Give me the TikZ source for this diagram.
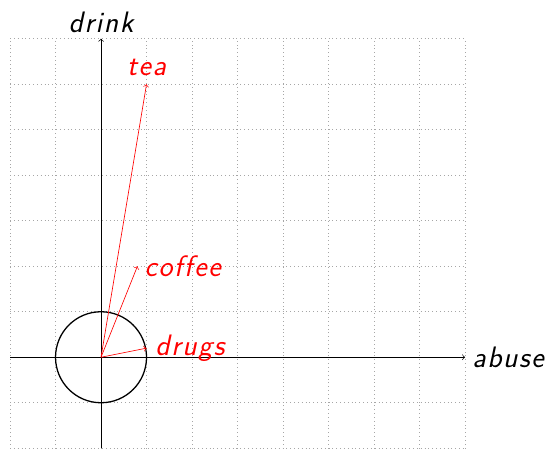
\documentclass[tikz,border=0pt]{standalone}
\def\lsk{\kern1pt}
\begin{document}
\begin{tikzpicture}[
  lbl/.style={font=\fontsize{18.5}{22}\selectfont\sffamily\itshape},
  vec/.style={red,->},
  axis/.style={->}]
\useasboundingbox (-2.22,-2.07) rectangle (9.80,7.85);
\draw[gray!70,dotted] (-2,-2) grid (8,7);
\coordinate (o) at (0,0);
\coordinate (xs) at (-2,0);
\coordinate (xe) at (8,0);
\coordinate (ys) at (0,-2);
\coordinate (ye) at (0,7);
\draw[axis] (xs) -- (xe) node[lbl,right,xshift=1pt] (xl) {a\lsk b\lsk u\lsk s\lsk e};
\draw[axis] (ys) -- (ye) node[lbl,above] (yl) {d\lsk r\lsk i\lsk n\lsk k};
\node[draw,thick,circle,minimum size=2cm,inner sep=0pt] (c) at (o) {};
\coordinate (t) at (1,6);
\coordinate (cf) at (0.8,2);
\coordinate (d) at (1,0.2);
\draw[vec] (o) -- (t) node[lbl,above,yshift=2pt] (tl) {t\lsk e\lsk a};
\draw[vec] (o) -- (cf) node[lbl,right,xshift=1pt] (cl) {c\lsk o\lsk f\lsk f\lsk e\lsk e};
\draw[vec] (o) -- (d) node[lbl,right,xshift=2pt] (dl) {d\lsk r\lsk u\lsk g\lsk s};
\end{tikzpicture}
\end{document}
